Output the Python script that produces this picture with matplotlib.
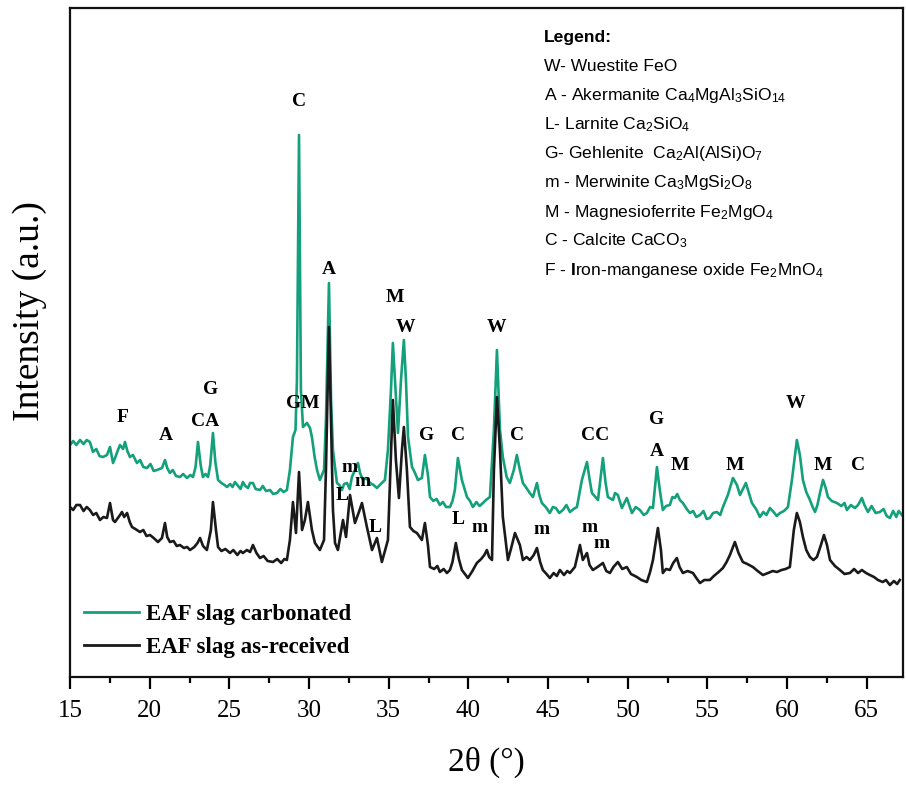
import matplotlib
matplotlib.use("Agg")
import matplotlib.pyplot as plt
from matplotlib.ticker import MultipleLocator

plt.rcParams['mathtext.fontset'] = 'custom'
plt.rcParams['mathtext.rm'] = 'Liberation Sans'
plt.rcParams['mathtext.it'] = 'Liberation Sans:italic'
plt.rcParams['mathtext.bf'] = 'Liberation Sans:bold'

# ---------------- data (2theta in degrees, intensity in arbitrary units) -------------
carb_2theta = [15.00, 15.20, 15.40, 15.63, 15.85, 16.05, 16.25, 16.44, 16.65, 16.85, 17.07, 17.32,
               17.51, 17.70, 17.85, 18.01, 18.14, 18.33, 18.45, 18.60, 18.76, 18.95, 19.20, 19.40,
               19.60, 19.83, 20.05, 20.25, 20.46, 20.77, 20.96, 21.10, 21.27, 21.45, 21.65, 21.90,
               22.10, 22.34, 22.55, 22.72, 22.88, 23.03, 23.20, 23.34, 23.50, 23.66, 23.80, 23.97,
               24.12, 24.29, 24.50, 24.70, 24.85, 25.05, 25.20, 25.35, 25.55, 25.70, 25.85, 26.00,
               26.17, 26.30, 26.48, 26.65, 26.92, 27.10, 27.30, 27.55, 27.75, 27.99, 28.20, 28.40,
               28.61, 28.80, 28.99, 29.15, 29.24, 29.37, 29.49, 29.62, 29.87, 30.06, 30.18, 30.35,
               30.50, 30.68, 30.94, 31.06, 31.25, 31.38, 31.50, 31.75, 31.90, 32.06, 32.20, 32.38,
               32.55, 32.69, 32.88, 33.07, 33.20, 33.38, 33.60, 33.82, 34.05, 34.26, 34.50, 34.76,
               34.95, 35.14, 35.26, 35.39, 35.58, 35.77, 35.95, 36.08, 36.21, 36.46, 36.65, 36.83,
               37.08, 37.27, 37.46, 37.59, 37.80, 38.00, 38.21, 38.40, 38.60, 38.84, 39.00, 39.15,
               39.34, 39.59, 39.91, 40.10, 40.28, 40.50, 40.70, 40.91, 41.10, 41.35, 41.60, 41.79,
               41.98, 42.16, 42.40, 42.60, 42.85, 43.04, 43.23, 43.42, 43.60, 43.85, 44.05, 44.30,
               44.45, 44.61, 44.85, 45.11, 45.30, 45.49, 45.70, 45.93, 46.15, 46.37, 46.60, 46.81,
               47.12, 47.44, 47.60, 47.75, 48.13, 48.44, 48.60, 48.75, 49.07, 49.20, 49.38, 49.63,
               49.94, 50.26, 50.50, 50.76, 51.00, 51.20, 51.40, 51.58, 51.83, 52.01, 52.20, 52.40,
               52.64, 52.80, 52.96, 53.10, 53.27, 53.46, 53.70, 53.90, 54.10, 54.30, 54.53, 54.75,
               54.95, 55.15, 55.35, 55.59, 55.80, 55.97, 56.28, 56.60, 56.85, 57.04, 57.41, 57.60,
               57.79, 58.05, 58.29, 58.50, 58.70, 58.92, 59.15, 59.35, 59.55, 59.80, 60.05, 60.30,
               60.61, 60.80, 60.99, 61.20, 61.43, 61.60, 61.75, 61.90, 62.06, 62.25, 62.40, 62.56,
               62.80, 63.12, 63.40, 63.60, 63.75, 64.00, 64.25, 64.45, 64.69, 64.85, 65.07, 65.30,
               65.55, 65.82, 66.05, 66.25, 66.45, 66.65, 66.85, 67.00, 67.20]
carb_int = [232, 236, 232, 237, 233, 237, 235, 225, 228, 221, 220, 222,
            230, 214, 220, 227, 232, 228, 235, 226, 220, 222, 214, 217,
            210, 209, 213, 206, 207, 209, 217, 209, 204, 207, 201, 200,
            203, 199, 202, 200, 210, 235, 212, 200, 203, 200, 212, 244,
            215, 197, 194, 192, 190, 193, 190, 195, 191, 188, 195, 191,
            189, 194, 194, 188, 187, 191, 186, 187, 183, 184, 188, 185,
            187, 207, 240, 247, 297, 542, 287, 250, 254, 249, 240, 220,
            207, 197, 207, 257, 394, 277, 227, 194, 192, 187, 193, 194,
            188, 200, 207, 214, 204, 197, 199, 194, 192, 189, 193, 197,
            227, 287, 334, 297, 244, 297, 337, 297, 240, 210, 204, 197,
            199, 222, 202, 180, 176, 178, 172, 175, 170, 170, 176, 187,
            219, 197, 180, 176, 170, 175, 171, 174, 177, 180, 247, 327,
            247, 220, 200, 194, 207, 222, 207, 194, 190, 184, 180, 194,
            182, 174, 170, 164, 170, 169, 164, 167, 172, 165, 168, 170,
            197, 215, 198, 184, 177, 219, 195, 180, 177, 184, 182, 169,
            179, 164, 170, 167, 162, 164, 170, 169, 210, 187, 167, 171,
            172, 180, 179, 183, 177, 174, 168, 164, 166, 160, 162, 166,
            158, 159, 164, 165, 162, 170, 182, 199, 192, 182, 194, 184,
            174, 168, 160, 165, 162, 169, 165, 161, 164, 166, 170, 197,
            237, 222, 197, 185, 177, 170, 165, 172, 184, 197, 190, 180,
            176, 174, 171, 174, 167, 172, 169, 172, 179, 172, 165, 171,
            164, 165, 168, 161, 159, 166, 160, 166, 162]

asrec_2theta = [15.00, 15.20, 15.40, 15.63, 15.85, 16.05, 16.25, 16.45, 16.65, 16.88, 17.10, 17.32,
                17.51, 17.70, 17.82, 18.00, 18.14, 18.26, 18.40, 18.58, 18.75, 18.89, 19.10, 19.39,
                19.60, 19.80, 20.02, 20.25, 20.52, 20.77, 20.96, 21.10, 21.27, 21.50, 21.70, 21.90,
                22.15, 22.35, 22.53, 22.80, 23.00, 23.16, 23.35, 23.59, 23.84, 23.97, 24.16, 24.29,
                24.50, 24.75, 25.04, 25.25, 25.50, 25.70, 25.85, 26.10, 26.30, 26.48, 26.70, 26.92,
                27.15, 27.40, 27.74, 28.00, 28.25, 28.45, 28.61, 28.80, 28.99, 29.18, 29.37, 29.56,
                29.74, 29.93, 30.18, 30.37, 30.68, 30.94, 31.06, 31.25, 31.38, 31.50, 31.63, 31.81,
                32.13, 32.32, 32.57, 32.88, 33.13, 33.32, 33.63, 33.95, 34.26, 34.57, 34.95, 35.08,
                35.26, 35.45, 35.64, 35.83, 35.95, 36.14, 36.33, 36.55, 36.77, 37.08, 37.27, 37.46,
                37.59, 37.85, 38.05, 38.21, 38.45, 38.65, 38.84, 39.00, 39.21, 39.40, 39.59, 39.97,
                40.25, 40.53, 40.80, 41.00, 41.16, 41.30, 41.48, 41.60, 41.79, 41.98, 42.16, 42.48,
                42.70, 42.92, 43.10, 43.23, 43.42, 43.65, 43.86, 44.10, 44.30, 44.50, 44.67, 44.90,
                45.11, 45.35, 45.55, 45.74, 46.00, 46.20, 46.37, 46.68, 47.00, 47.18, 47.44, 47.60,
                47.81, 48.10, 48.44, 48.65, 48.88, 49.10, 49.38, 49.65, 49.94, 50.20, 50.57, 50.85,
                51.20, 51.40, 51.58, 51.89, 52.08, 52.20, 52.40, 52.64, 52.85, 53.08, 53.25, 53.46,
                53.75, 54.09, 54.30, 54.53, 54.80, 55.15, 55.40, 55.70, 55.97, 56.20, 56.41, 56.72,
                56.95, 57.22, 57.50, 57.85, 58.15, 58.48, 58.80, 59.10, 59.36, 59.65, 59.90, 60.17,
                60.42, 60.61, 60.80, 60.99, 61.20, 61.43, 61.65, 61.87, 62.12, 62.31, 62.50, 62.69,
                63.00, 63.31, 63.60, 63.94, 64.20, 64.45, 64.69, 64.95, 65.19, 65.45, 65.70, 66.00,
                66.20, 66.45, 66.70, 66.90, 67.07]
asrec_int = [170, 167, 172, 172, 166, 170, 167, 162, 164, 157, 160, 159,
             174, 157, 155, 159, 162, 165, 160, 164, 155, 150, 148, 145,
             147, 141, 142, 139, 135, 139, 154, 140, 135, 136, 131, 132,
             129, 130, 127, 130, 134, 139, 131, 127, 147, 175, 147, 130,
             126, 128, 124, 127, 122, 126, 124, 127, 125, 132, 124, 119,
             121, 116, 115, 118, 114, 118, 117, 137, 175, 144, 205, 147,
             157, 175, 147, 134, 127, 137, 207, 350, 257, 167, 134, 127,
             157, 140, 182, 154, 165, 174, 150, 127, 139, 115, 137, 197,
             277, 217, 179, 227, 250, 207, 150, 146, 144, 137, 154, 132,
             110, 108, 111, 105, 108, 104, 107, 115, 134, 118, 107, 99,
             106, 114, 118, 122, 127, 120, 117, 207, 280, 227, 160, 117,
             130, 144, 137, 132, 117, 120, 117, 122, 129, 115, 107, 103,
             99, 104, 101, 107, 102, 106, 104, 110, 132, 117, 124, 112,
             107, 110, 114, 106, 104, 110, 115, 108, 110, 103, 100, 97,
             95, 105, 117, 149, 127, 104, 108, 107, 114, 119, 110, 104,
             106, 104, 99, 94, 97, 97, 101, 105, 109, 115, 122, 135,
             124, 115, 113, 110, 106, 102, 104, 106, 105, 107, 108, 110,
             147, 164, 155, 140, 127, 120, 117, 120, 132, 142, 132, 117,
             111, 107, 103, 104, 108, 104, 107, 104, 102, 100, 97, 95,
             97, 92, 96, 93, 97]

series_labels = ["EAF slag carbonated", "EAF slag as-received"]
series_colors = ["#13a07b", "#1a1a1a"]

# phase labels: (text, 2theta, intensity)
carb_peak_labels = ["C", "A", "M", "W", "W", "GM", "F", "A", "CA", "G", "G", "C", "C", "CC",
                    "G", "A", "M", "M", "W", "M", "C"]
carb_peak_x = [29.37, 31.25, 35.39, 36.02, 41.79, 29.62, 18.33, 21.02, 23.47, 23.85, 37.40, 39.34,
               43.04, 47.94, 51.83, 51.83, 53.27, 56.72, 60.55, 62.24, 64.44]
carb_peak_y = [576, 408, 379, 349, 349, 273, 259, 241, 256, 288, 241, 241,
               241, 241, 257, 226, 211, 211, 273, 211, 211]

asrec_peak_labels = ["m", "m", "L", "L", "L", "m", "m", "m", "m"]
asrec_peak_x = [32.57, 33.38, 32.06, 34.13, 39.34, 40.72, 44.61, 47.62, 48.38]
asrec_peak_y = [209, 195, 182, 150, 157, 149, 147, 149, 134]

legend_title = "Legend:"
legend_lines = [
    "W- Wuestite FeO",
    "A - Akermanite Ca$_4$MgAl$_3$SiO$_{14}$",
    "L- Larnite Ca$_2$SiO$_4$",
    "G- Gehlenite  Ca$_2$Al(AlSi)O$_7$",
    "m - Merwinite Ca$_3$MgSi$_2$O$_8$",
    "M - Magnesioferrite Fe$_2$MgO$_4$",
    "C - Calcite CaCO$_3$",
    "F - $\\mathbf{I}$ron-manganese oxide Fe$_2$MnO$_4$",
]

x_ticks = [15, 20, 25, 30, 35, 40, 45, 50, 55, 60, 65]

# ---------------- figure ----------------
W, H = 906, 785
fig = plt.figure(figsize=(W / 100, H / 100), dpi=100)
ax = fig.add_axes([70 / W, (H - 677) / H, (903 - 70) / W, (677 - 8) / H])

ax.plot(carb_2theta, carb_int, color=series_colors[0], lw=1.9, label=series_labels[0])
ax.plot(asrec_2theta, asrec_int, color=series_colors[1], lw=1.9, label=series_labels[1])

ax.set_xlim(15, 67.27)
ax.set_ylim(0, 669)

serif = "Liberation Serif"
for t, x, y in zip(carb_peak_labels, carb_peak_x, carb_peak_y):
    ax.text(x, y, t, ha="center", va="center", fontsize=14, fontweight="bold", family=serif)
for t, x, y in zip(asrec_peak_labels, asrec_peak_x, asrec_peak_y):
    ax.text(x, y, t, ha="center", va="center", fontsize=14, fontweight="bold", family=serif)


def px2ax(px, py):
    return (px - 70) / (903 - 70), (677 - py) / (677 - 8)


# text legend (upper right)
lx, ly = px2ax(544, 42)
ax.text(lx, ly, legend_title, transform=ax.transAxes, ha="left", va="baseline",
        fontsize=12.6, fontweight="bold", family="Liberation Sans")
for i, line in enumerate(legend_lines):
    lx, ly = px2ax(544, 71 + i * 29.1)
    ax.text(lx, ly, line, transform=ax.transAxes, ha="left", va="baseline",
            fontsize=12.6, family="Liberation Sans")

# line legend (lower left)
leg = ax.legend(loc="upper left", bbox_to_anchor=px2ax(84, 604), frameon=False,
                prop={"family": serif, "weight": "bold", "size": 16.5},
                handlelength=2.4, handletextpad=0.3, labelspacing=0.5,
                borderpad=0, borderaxespad=0)
for h in leg.get_lines():
    h.set_linewidth(2.0)

# axes styling
for s in ax.spines.values():
    s.set_linewidth(1.6)
    s.set_color("#111111")
ax.set_yticks([])
ax.set_xticks(x_ticks)
ax.xaxis.set_minor_locator(MultipleLocator(2.5))
ax.tick_params(axis="x", which="major", direction="out", length=8.5, width=1.6,
               labelsize=18, pad=8)
ax.tick_params(axis="x", which="minor", direction="out", length=4, width=1.6)
for lab in ax.get_xticklabels():
    lab.set_family(serif)

ax.set_xlabel("2θ (°)", family=serif, fontsize=24, labelpad=18)
ax.set_ylabel("Intensity (a.u.)", family=serif, fontsize=27)
ax.yaxis.set_label_coords(-0.028, 0.547)

fig.savefig("out.png", dpi=100)
